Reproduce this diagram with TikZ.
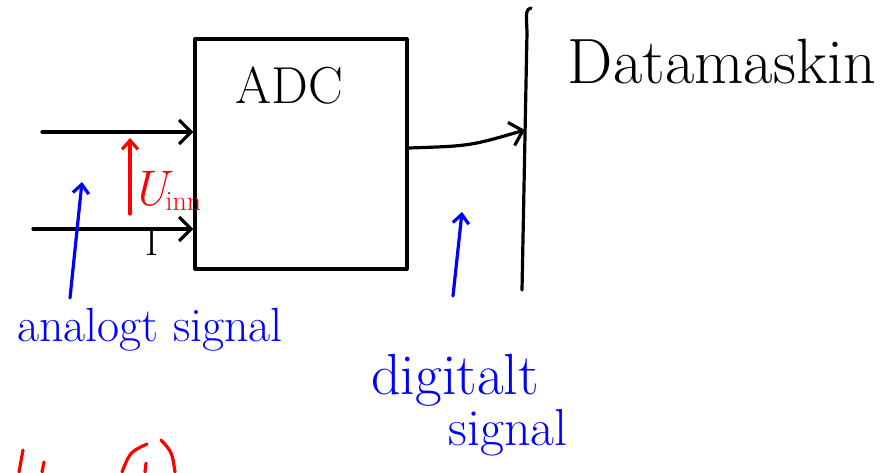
\documentclass[tikz,border=0pt]{standalone}
\usepackage{tikz}
\usetikzlibrary{arrows.meta, positioning, calc}

\begin{document}
\begin{tikzpicture}[x=1pt, y=-1pt, >={Straight Barb[length=12pt, width=24pt]},
    pen/.style={line width=3.2pt, line cap=round, line join=round},
    small head/.style={-{Straight Barb[length=9pt, width=16pt]}},
    hand/.style={font=\fontsize{#1}{#1}\selectfont, inner sep=0pt}]
    \useasboundingbox (0,0) rectangle (888,472);

    % the converter
    \node[pen, draw, minimum width=212pt, minimum height=230pt, inner sep=0pt] (adc) at (301,154) {};
    \node[hand=52] (adclabel) at (289,86) {ADC};

    % inputs
    \coordinate (in1) at (42,132);
    \coordinate (in2) at (33,229);
    \draw[pen, ->] (in1) -- (in1 -| adc.west);
    \draw[pen, ->] (in2) -- (in2 -| adc.west);
    \node[hand=40] (cur) at (152,242) {I};

    \coordinate (uinnbot) at (130,214);
    \coordinate (uinntop) at (130,138);
    \draw[pen, red, small head] (uinnbot) -- (uinntop);
    \node[red, hand=50, anchor=south west] (uinn) at (131,211)
        {\itshape U\kern-2pt\raisebox{-0.1em}{\fontsize{28}{28}\selectfont\upshape inn}};

    % computer side
    \coordinate (bustop) at (531,8);
    \coordinate (busbot) at (522,290);
    \coordinate (busin) at (525,130);
    \coordinate (outy) at (0,148);
    \draw[pen] (bustop) .. controls (526,10) .. (527,32) -- (busbot);
    \draw[pen, ->] (adc.east |- outy) .. controls (470,146) .. (busin);
    \node[hand=64] (pc) at (722,62) {Datamaskin};

    % labels
    \node[blue, hand=48] (analog) at (150,330) {analogt signal};
    \coordinate (analogtip) at (82,182);
    \draw[pen, blue, small head] (70,298) -- (analogtip);

    \node[blue, hand=58] (digital) at (455,380) {digitalt};
    \node[blue, hand=52] (signal2) at (508,433) {signal};
    \coordinate (digitaltip) at (462,212);
    \draw[pen, blue, small head] (453,296) -- (digitaltip);

    % red text cut off below
    \draw[pen, red] (23,450) -- (19,472);
    \draw[pen, red] (44,462) -- (42,472);
    \draw[pen, red] (147,444) .. controls (130,452) .. (122,472);
    \draw[pen, red] (146,463) -- (145,472);
    \draw[pen, red] (161,440) .. controls (172,452) .. (175,472);
\end{tikzpicture}
\end{document}
